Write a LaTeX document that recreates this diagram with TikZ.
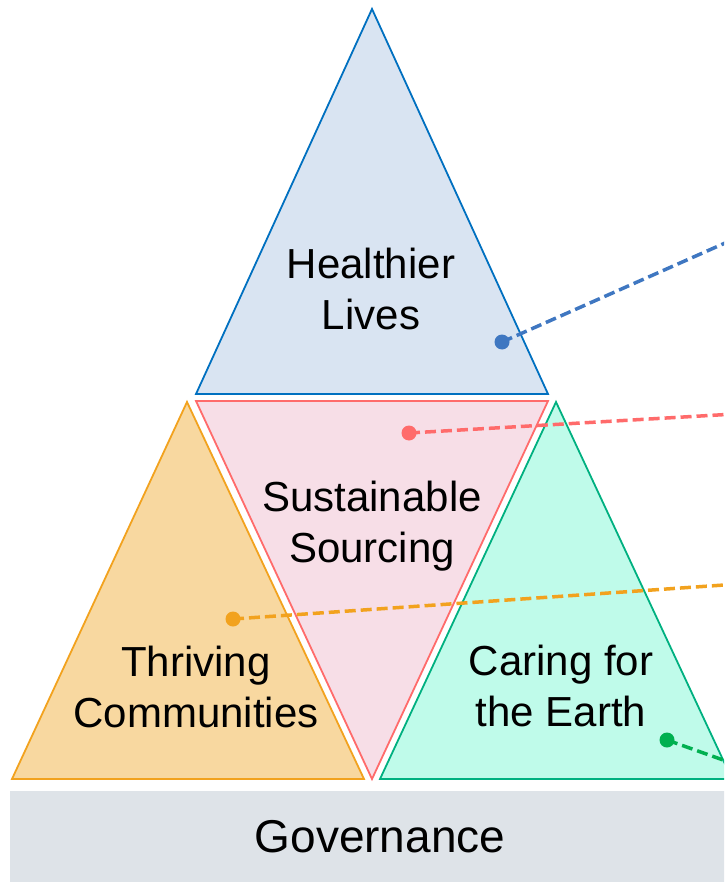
\documentclass[tikz,border=0pt]{standalone}
\usepackage{fontspec}
\setmainfont{Liberation Sans}
\definecolor{bluefill}{HTML}{D9E4F2}
\definecolor{blueedge}{HTML}{0070C0}
\definecolor{bluelink}{HTML}{3F77C1}
\definecolor{pinkfill}{HTML}{F7DEE7}
\definecolor{pinkedge}{HTML}{FF6B6B}
\definecolor{orangefill}{HTML}{F8D8A0}
\definecolor{orangeedge}{HTML}{F2A21E}
\definecolor{greenfill}{HTML}{BFFBEA}
\definecolor{greenedge}{HTML}{00B080}
\definecolor{greenlink}{HTML}{00B050}
\definecolor{govfill}{HTML}{DEE3E8}
\begin{document}
\begin{tikzpicture}[x=1pt,y=-1pt,
  tri/.style={line width=1.8pt, line join=miter},
  label/.style={font=\fontsize{42}{51}\selectfont, align=center, inner sep=0pt, text=black},
  dot/.style={circle, inner sep=0pt, minimum size=15pt},
  link/.style={line width=3.5pt, dash pattern=on 11pt off 5pt}]
\useasboundingbox (0,0) rectangle (724,882);
\clip (0,0) rectangle (724,882);
% governance bar
\fill[govfill] (10,791) rectangle (740,890);
\node[label, font=\fontsize{46}{52}\selectfont, anchor=base] (gov) at (380,852) {Governance};
% triangles
\filldraw[tri, fill=bluefill, draw=blueedge] (372,9) -- (196,394) -- (548,394) -- cycle;
\filldraw[tri, fill=pinkfill, draw=pinkedge] (196,401) -- (548,401) -- (372,779) -- cycle;
\filldraw[tri, fill=orangefill, draw=orangeedge] (187,402) -- (12,779) -- (364,779) -- cycle;
\filldraw[tri, fill=greenfill, draw=greenedge] (556,402) -- (380,779) -- (732,779) -- cycle;
% labels
\node[label] (health) at (371,289) {Healthier\\Lives};
\node[label] (sust) at (372,526) {Sustainable\\Sourcing};
\node[label] (thrive) at (196,687) {Thriving\\Communities};
\node[label] (earth) at (561,686) {Caring for\\the Earth};
% connector dots
\node[dot, fill=bluelink] (dblue) at (502,342) {};
\node[dot, fill=pinkedge] (dred) at (409,433) {};
\node[dot, fill=orangeedge] (dorange) at (233,619) {};
\node[dot, fill=greenlink] (dgreen) at (667,740) {};
\coordinate (eblue) at (740,236.4);
\coordinate (ered) at (740,413.7);
\coordinate (eorange) at (740,583.9);
\coordinate (egreen) at (740,766);
\draw[link, draw=bluelink] (dblue.center) -- (eblue);
\draw[link, draw=pinkedge] (dred.center) -- (ered);
\draw[link, draw=orangeedge] (dorange.center) -- (eorange);
\draw[link, draw=greenlink] (dgreen.center) -- (egreen);
\end{tikzpicture}
\end{document}
